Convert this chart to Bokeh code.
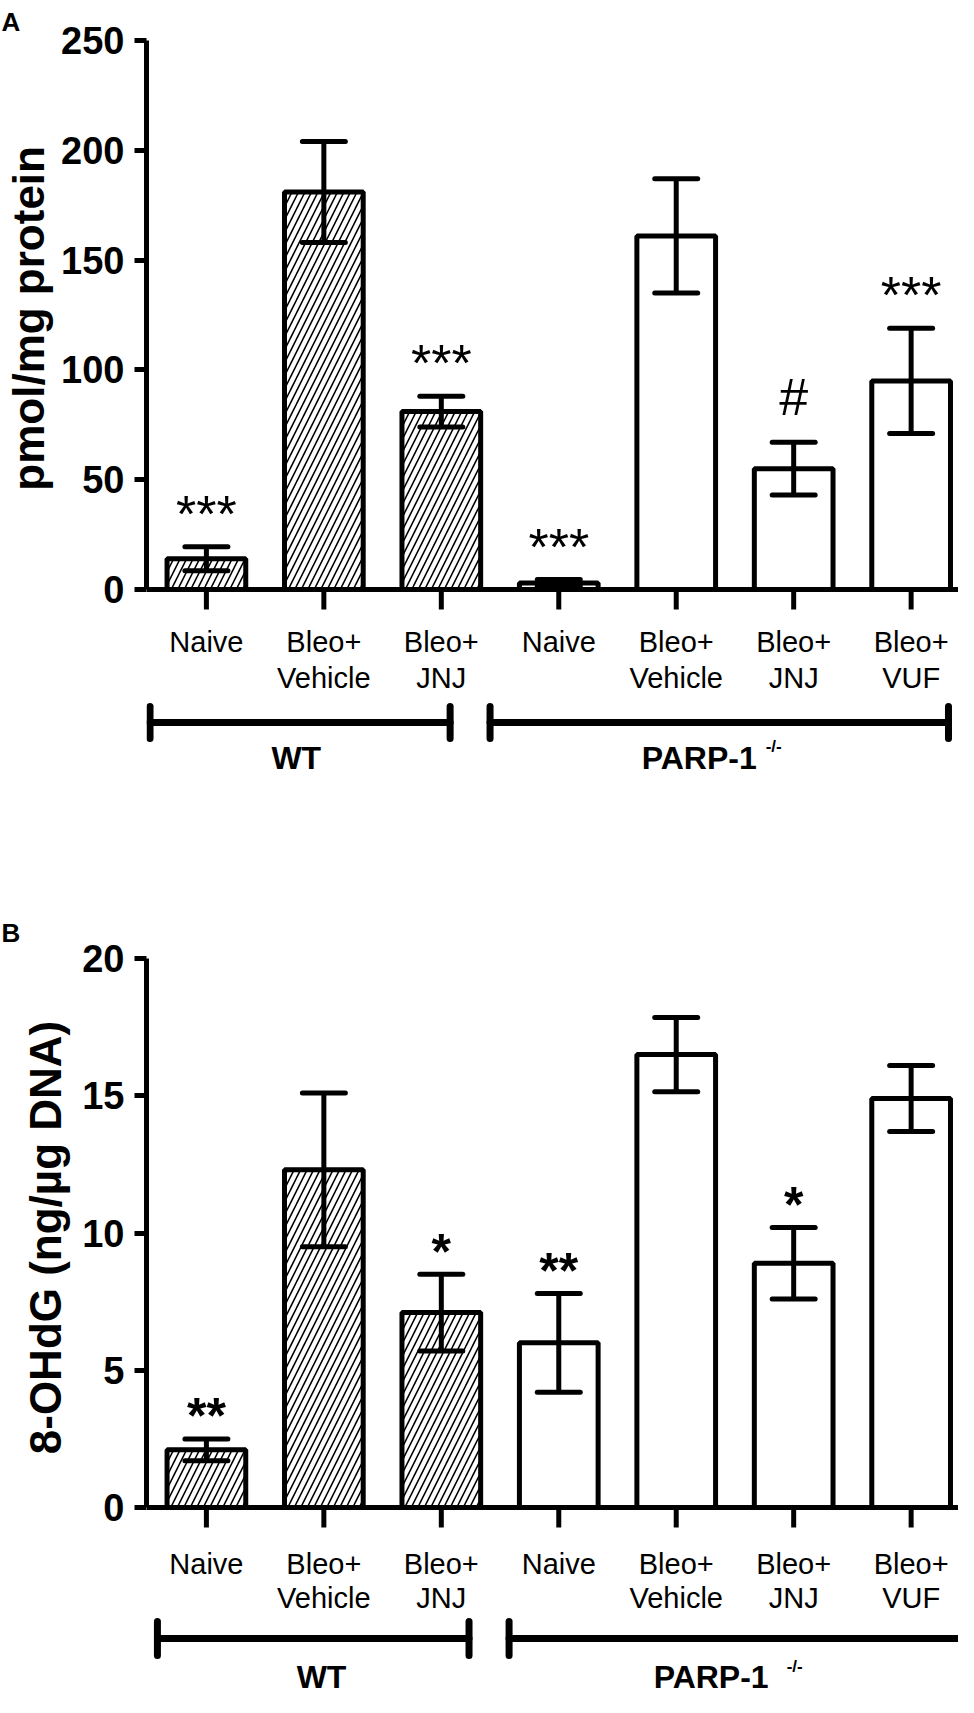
from bokeh.plotting import figure
from bokeh.models import Range1d, FixedTicker, ColumnDataSource, Title
from bokeh.layouts import column
from bokeh.embed import file_html
from bokeh.resources import INLINE
from bokeh.core.properties import value

# ---------------- data ----------------
categories = ["Naive", "Bleo+\nVehicle", "Bleo+\nJNJ", "Naive",
              "Bleo+\nVehicle", "Bleo+\nJNJ", "Bleo+\nVUF"]
genotypes = ["WT", "WT", "WT", "PARP-1", "PARP-1", "PARP-1", "PARP-1"]

a_mean = [14, 181, 81, 3, 161, 55, 95]
a_err = [5.5, 23, 7, 1.5, 26, 12, 24]
a_sig = ["***", "", "***", "***", "", "#", "***"]
a_ticks = [0, 50, 100, 150, 200, 250]
a_ylabel = "pmol/mg protein"

b_mean = [2.1, 12.3, 7.1, 6.0, 16.5, 8.9, 14.9]
b_err = [0.4, 2.8, 1.4, 1.8, 1.35, 1.3, 1.2]
b_sig = ["**", "", "*", "**", "", "*", ""]
b_ticks = [0, 5, 10, 15, 20]
b_ylabel = "8-OHdG (ng/\u00b5g DNA)"

# ---------------- layout constants ----------------
FONT = "Liberation Sans"
CANVAS_W = 958
LEFT = 145
SPACING = 117.6          # px between categories
X0 = 0.49
X1 = X0 + (CANVAS_W - LEFT) / SPACING
PLOT_H = 549             # px from 0 to top tick
BAR_W = 0.67
CAP = 0.183


def txt(p, x, y, s, size, style="normal", align="center"):
    p.text(x=x, y=y, text=s, text_align=align, text_baseline="middle",
           text_font=value(FONT), text_font_size=value(f"{size}px"),
           text_font_style=style, text_color="black")


def panel(letter, mean, err, sig, ymax, ticks, ylabel, top_border, below_px,
          lab1, lab2, br_y, br_cap, grp_y, sup_dy, pads, label_dx, sup_gap,
          ylab_standoff, ylab_start, sig_fs, sig_style, sig_gap,
          title_standoff):
    ppu = PLOT_H / ymax
    ymin = -below_px / ppu
    h = top_border + PLOT_H + below_px
    p = figure(width=CANVAS_W, height=h, x_range=Range1d(X0, X1),
               y_range=Range1d(ymin, ymax), output_backend="svg",
               toolbar_location=None, x_axis_type=None,
               min_border_left=LEFT, min_border_right=0,
               min_border_top=top_border, min_border_bottom=0)
    p.outline_line_color = None
    p.background_fill_color = "white"
    p.border_fill_color = "white"
    p.ygrid.visible = False

    x = list(range(1, len(mean) + 1))
    hatch = ["/" if g == "WT" else " " for g in genotypes]
    lo = [m - e for m, e in zip(mean, err)]
    hi = [m + e for m, e in zip(mean, err)]
    src = ColumnDataSource(dict(x=x, top=mean, hatch=hatch, lo=lo, hi=hi,
                                cl=[v - CAP for v in x],
                                cr=[v + CAP for v in x]))
    p.vbar(x="x", top="top", bottom=0, width=BAR_W, source=src,
           fill_color="white", line_color="black", line_width=5,
           hatch_pattern="hatch", hatch_color="black", hatch_scale=13,
           hatch_weight=1.6)
    p.segment(x0="x", y0="lo", x1="x", y1="hi", source=src,
              line_color="black", line_width=5)
    p.segment(x0="cl", y0="hi", x1="cr", y1="hi", source=src,
              line_color="black", line_width=5, line_cap="round")
    p.segment(x0="cl", y0="lo", x1="cr", y1="lo", source=src,
              line_color="black", line_width=5, line_cap="round")

    # significance marks
    sx, sy, st = [], [], []
    for xi, h_, s in zip(x, hi, sig):
        if not s:
            continue
        c = 0.23 if "*" in s else 0.0
        sx.append(xi)
        sy.append(h_ + (sig_gap - c * sig_fs) / ppu)
        st.append(s)
    txt(p, sx, sy, st, sig_fs, sig_style)

    # x axis (line, ticks, category labels)
    p.segment(x0=[X0], y0=[0], x1=[X1], y1=[0], line_color="black",
              line_width=5)
    p.segment(x0=x, y0=[0] * len(x), x1=x, y1=[-20 / ppu] * len(x),
              line_color="black", line_width=5)
    l1x, l1y, l1t, l2x, l2y, l2t = [], [], [], [], [], []
    for xi, c in zip(x, categories):
        parts = c.split("\n")
        l1x.append(xi); l1y.append(-lab1 / ppu); l1t.append(parts[0])
        if len(parts) > 1:
            l2x.append(xi); l2y.append(-lab2 / ppu); l2t.append(parts[1])
    txt(p, l1x, l1y, l1t, 29)
    txt(p, l2x, l2y, l2t, 29)

    # genotype brackets
    for g in ["WT", "PARP-1"]:
        idx = [i + 1 for i, gg in enumerate(genotypes) if gg == g]
        blo = max(idx[0] + pads[g][0], X0 + 0.03)
        bhi = idx[-1] + pads[g][1]
        yl = -br_y / ppu
        p.segment(x0=[blo], y0=[yl], x1=[bhi], y1=[yl], line_color="black",
                  line_width=7, line_cap="round")
        p.segment(x0=[blo, bhi], y0=[yl - br_cap / 2 / ppu] * 2,
                  x1=[blo, bhi], y1=[yl + br_cap / 2 / ppu] * 2,
                  line_color="black", line_width=7, line_cap="round")
        cx = sum(idx) / len(idx) + label_dx[g]
        if g == "WT":
            txt(p, [cx], [-grp_y / ppu], [g], 32, "bold")
        else:
            txt(p, [cx], [-grp_y / ppu], [g], 32, "bold", "right")
            txt(p, [cx + sup_gap / SPACING], [(-grp_y + sup_dy) / ppu],
                ["-/-"], 17, "bold", "left")

    yax = p.yaxis[0]
    yax.ticker = FixedTicker(ticks=ticks)
    yax.bounds = (0, ymax)
    yax.axis_line_width = 5
    yax.axis_line_color = "black"
    yax.major_tick_line_width = 5
    yax.major_tick_line_color = "black"
    yax.major_tick_out = 12
    yax.major_tick_in = 0
    yax.minor_tick_line_color = None
    yax.major_label_text_font = FONT
    yax.major_label_text_font_size = "38px"
    yax.major_label_text_font_style = "bold"
    yax.major_label_text_color = "black"
    yax.major_label_standoff = 10

    # y-axis title: starts (bottom end) at value ylab_start on the axis
    p.add_layout(Title(text=ylabel, align="left", vertical_align="top",
                       offset=below_px + ylab_start * ppu,
                       standoff=ylab_standoff, text_font=FONT,
                       text_font_size="44px", text_font_style="bold",
                       text_color="black"), "left")

    p.title.text = letter
    p.title.text_font = FONT
    p.title.text_font_size = "26px"
    p.title.text_font_style = "bold"
    p.title.text_color = "black"
    p.title.align = "left"
    p.title.offset = -LEFT
    p.title.standoff = title_standoff
    return p


pA = panel("A", a_mean, a_err, a_sig, 250, a_ticks, a_ylabel,
           top_border=40, below_px=211, lab1=52, lab2=88, br_y=133,
           br_cap=32, grp_y=168, sup_dy=11,
           pads={"WT": (-0.61, 0.075), "PARP-1": (-0.585, 0.318)},
           label_dx={"WT": -0.235, "PARP-1": 0.185}, sup_gap=9,
           ylab_standoff=7, ylab_start=45, sig_fs=52, sig_style="normal",
           sig_gap=45, title_standoff=8)
pB = panel("B", b_mean, b_err, b_sig, 20, b_ticks, b_ylabel,
           top_border=158, below_px=190, lab1=56, lab2=90, br_y=131,
           br_cap=34, grp_y=169, sup_dy=10,
           pads={"WT": (-0.417, 0.236), "PARP-1": (-0.423, 0.6)},
           label_dx={"WT": -0.02, "PARP-1": 0.287}, sup_gap=18,
           ylab_standoff=16, ylab_start=1.94, sig_fs=50, sig_style="bold",
           sig_gap=34, title_standoff=21)

layout = column(pA, pB, spacing=0)
open("out.html", "w").write(file_html(layout, INLINE))
